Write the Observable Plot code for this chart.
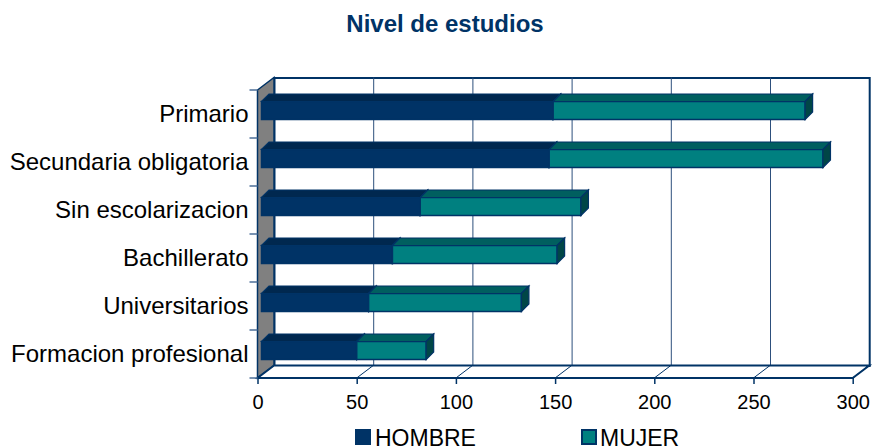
<!DOCTYPE html>
<html><head><meta charset="utf-8">
<script src="https://cdn.jsdelivr.net/npm/d3@7"></script>
<script src="https://cdn.jsdelivr.net/npm/@observablehq/plot@0.6"></script>
<style>
html,body{margin:0;padding:0;background:#fff;}
#wrap{position:relative;width:873px;height:448px;overflow:hidden;font-family:"Liberation Sans",Arial,sans-serif;}
#title{position:absolute;left:0;width:890px;top:12px;text-align:center;font-weight:bold;font-size:24px;line-height:24px;color:#003366;}
.leg{position:absolute;top:427px;font-size:23px;line-height:23px;color:#000;white-space:nowrap;}
.sw{position:absolute;width:16px;height:16px;box-sizing:border-box;}
#chart{position:absolute;left:0;top:0;}
#chart svg [aria-label^="x-axis"] text{font-size:20px;fill:#000;}
#chart svg [aria-label^="y-axis"] text{font-size:24px;fill:#000;}
#chart svg [aria-label^="x-axis"] line, #chart svg [aria-label^="x-axis"] path{stroke:#003366;stroke-width:1.5;}
</style></head>
<body>
<div id="wrap">
  <div id="chart"></div>
  <div id="title">Nivel de estudios</div>
  <div class="sw" style="left:355px;top:429px;background:#003366;"></div>
  <div class="leg" style="left:375px;">HOMBRE</div>
  <div class="sw" style="left:581px;top:429px;background:#008080;border:2px solid #003366;"></div>
  <div class="leg" style="left:600px;">MUJER</div>
</div>
<script>
const categories = ["Primario","Secundaria obligatoria","Sin escolarizacion","Bachillerato","Universitarios","Formacion profesional"];
const series = ["HOMBRE","MUJER"];
const hombre = [147,145,80,66,54,48];
const mujer = [127,138,81,83,77,35];
const xTicks = [0,50,100,150,200,250,300];
const colors = ["#003366","#008080"];

const data = [];
categories.forEach((c,i)=>data.push({cat:c, serie:"HOMBRE", v:hombre[i]}));
categories.forEach((c,i)=>data.push({cat:c, serie:"MUJER", v:mujer[i]}));

const WDX = 16.5, WDY = -12.5, BD = 7.5, BDX = 4;
const navy = "#003366";

const plot = Plot.plot({
  width: 873, height: 448,
  marginLeft: 257.5, marginRight: 20.3, marginTop: 90, marginBottom: 70,
  style: {fontFamily: "Liberation Sans, Arial, sans-serif", fontSize: "20px", color: "#000", background: "transparent", overflow: "visible"},
  x: {domain: [0,300], ticks: xTicks, tickSize: 6, tickPadding: 10, label: null, tickFormat: d => String(d)},
  y: {domain: categories, padding: 0, tickSize: 0, tickPadding: 9.5, label: null},
  color: {domain: series, range: colors},
  marks: [
    Plot.frame({dx: WDX, dy: WDY, stroke: navy, strokeWidth: 2, fill: "white"}),
    Plot.ruleX([50,100,150,200,250], {dx: WDX, dy: WDY, stroke: "#2d4f7c", strokeWidth: 1}),
    Plot.barX(data, Plot.stackX({y: "cat", x: "v", fill: "serie", insetTop: 11.5, insetBottom: 18.5, dx: BDX, stroke: navy, strokeWidth: 1.5}))
  ]
});
document.getElementById("chart").appendChild(plot);

// 3D decoration derived from the library's scales
const xs = plot.scale("x"), ys = plot.scale("y");
const X = d3.scaleLinear(xs.domain, xs.range);
const yr = ys.range, n = ys.domain.length, step = (yr[1]-yr[0])/n;
const x0 = X(0), x1 = X(300), yTop = yr[0], yBot = yr[1];
const ns = "http://www.w3.org/2000/svg";
const barG = plot.querySelector('g[aria-label="bar"]');
const walls = document.createElementNS(ns, "g");
plot.insertBefore(walls, barG);
const W = d3.select(walls);
// left wall
W.append("polygon").attr("points", [[x0,yTop],[x0+WDX,yTop+WDY],[x0+WDX,yBot+WDY],[x0,yBot]].join(" "))
  .attr("fill","#808080").attr("stroke",navy).attr("stroke-width",1.5);
// floor
W.append("polygon").attr("points", [[x0,yBot],[x1,yBot],[x1+WDX,yBot+WDY],[x0+WDX,yBot+WDY]].join(" "))
  .attr("fill","#fff").attr("stroke",navy).attr("stroke-width",2);
xTicks.forEach(v => {
  W.append("line").attr("x1",X(v)).attr("y1",yBot).attr("x2",X(v)+WDX).attr("y2",yBot+WDY)
   .attr("stroke",navy).attr("stroke-width",1);
});
// left ticks at band boundaries
for (let i=0;i<=n;i++){
  W.append("line").attr("x1",x0-8).attr("x2",x0).attr("y1",yTop+i*step).attr("y2",yTop+i*step)
   .attr("stroke","#4d6f99").attr("stroke-width",1.5);
}
// bar faces
const topCol = {"#003366":"#00284f","#008080":"#005f5f"};
const sideCol = {"#003366":"#001f3f","#008080":"#004646"};
Array.from(barG.querySelectorAll("rect")).forEach(r => {
  const x = +r.getAttribute("x"), y = +r.getAttribute("y"), w = +r.getAttribute("width"), h = +r.getAttribute("height");
  const f = r.getAttribute("fill");
  const side = document.createElementNS(ns,"polygon");
  side.setAttribute("points", [[x+w,y],[x+w+BD,y-BD],[x+w+BD,y+h-BD],[x+w,y+h]].join(" "));
  side.setAttribute("fill", sideCol[f] || f); side.setAttribute("stroke", navy); side.setAttribute("stroke-width", 1.2);
  const top = document.createElementNS(ns,"polygon");
  top.setAttribute("points", [[x,y],[x+BD,y-BD],[x+w+BD,y-BD],[x+w,y]].join(" "));
  top.setAttribute("fill", topCol[f] || f); top.setAttribute("stroke", navy); top.setAttribute("stroke-width", 1.2);
  r.parentNode.insertBefore(side, r.nextSibling);
  r.parentNode.insertBefore(top, r.nextSibling);
});
</script>
</body></html>
